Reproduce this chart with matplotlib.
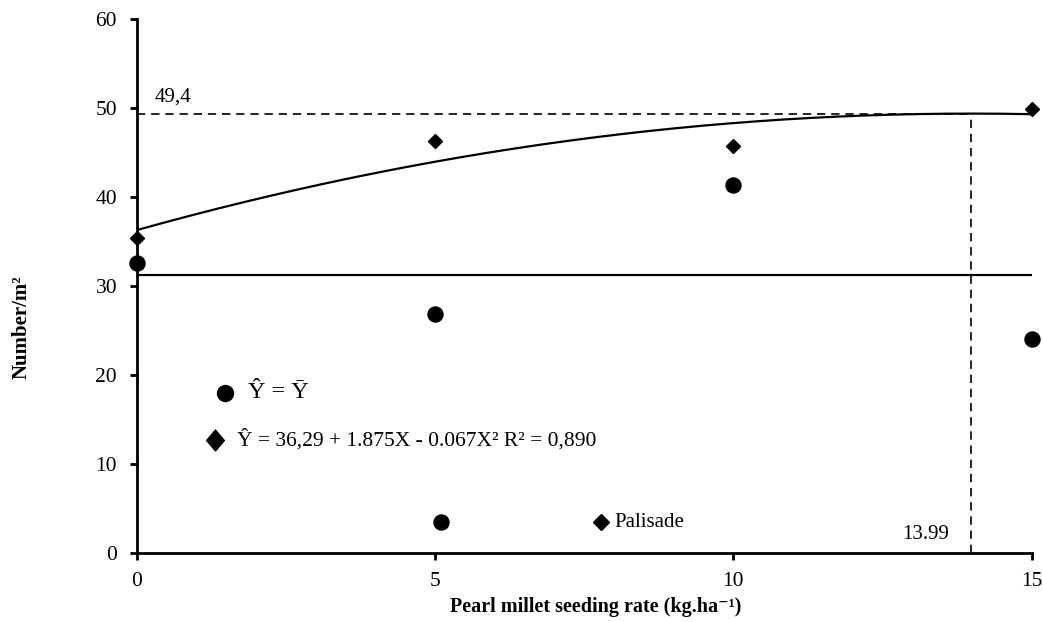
import numpy as np
import matplotlib.pyplot as plt
from matplotlib.path import Path

plt.rcParams['font.family'] = ['Liberation Serif', 'DejaVu Serif']

# data
rates = [0, 5, 10, 15]
mean_pts = [32.6, 26.9, 41.4, 24.1]       # circles, Y^ = Ybar
palisade = [35.4, 46.3, 45.8, 49.9]       # diamonds, quadratic fit
coef = [36.29, 1.875, -0.067]             # Y^ = b0 + b1 X + b2 X^2
x_max, y_max = 13.99, 49.4

fig = plt.figure(figsize=(10.43, 6.22), dpi=100)
ax = fig.add_axes([0.1309, 0.1114, 0.8583, 0.8573])

xs = np.linspace(0, 15, 200)
ys = coef[0] + coef[1] * xs + coef[2] * xs ** 2
ax.plot(xs, ys, color='black', lw=1.6, zorder=3)

ybar = np.mean(mean_pts)
ax.plot([0, 15], [ybar, ybar], color='black', lw=1.6, zorder=3)

ax.plot([0, x_max], [y_max, y_max], color='black', lw=1.2, dashes=(5, 3.5))
ax.plot([x_max, x_max], [0, y_max], color='black', lw=1.2, dashes=(5, 3.5))

ax.plot(rates, mean_pts, 'o', color='black', ms=10.8, clip_on=False, zorder=4)
ax.plot(rates, palisade, 'D', color='black', ms=7.0, clip_on=False, zorder=4)

# in-plot legend
tall_diamond = Path([(0, 1), (0.85, 0), (0, -1), (-0.85, 0), (0, 1)],
                    [Path.MOVETO, Path.LINETO, Path.LINETO, Path.LINETO, Path.CLOSEPOLY])
ax.plot([1.48], [18.0], 'o', color='black', ms=11.5)
ax.text(1.87, 18.0, 'Ŷ = Ȳ', fontsize=17.5, va='center', ha='left')
ax.plot([1.31], [12.7], marker=tall_diamond, color='black', ms=15, ls='none')
ax.text(1.68, 12.7, 'Ŷ = 36,29 + 1.875X - 0.067X² R² = 0,890', fontsize=15.5,
        va='center', ha='left')

ax.plot([5.1], [3.4], 'o', color='black', ms=10.8)
ax.plot([7.79], [3.4], 'D', color='black', ms=7.8)
ax.text(8.01, 3.4, 'Palisade', fontsize=15, va='center', ha='left')

ax.text(0.31, 50.8, '49,4', fontsize=15, ha='left', va='baseline')
ax.text(13.61, 1.5, '13.99', fontsize=15, ha='right', va='baseline')

ax.set_xlim(0, 15)
ax.set_ylim(0, 60)
ax.set_xticks([0, 5, 10, 15])
ax.set_yticks(range(0, 61, 10))
ax.spines['top'].set_visible(False)
ax.spines['right'].set_visible(False)
ax.spines['left'].set_linewidth(2.0)
ax.spines['bottom'].set_linewidth(2.0)
ax.tick_params(direction='out', length=5, width=2.0, labelsize=15.5, pad=9)

fig.text(0.0205, 0.474, 'Number/m²', rotation=90, fontsize=15, fontweight='bold',
         ha='center', va='center')
fig.text(0.571, 0.0165, 'Pearl millet seeding rate (kg.ha⁻¹)', fontsize=14.5,
         fontweight='bold', ha='center', va='baseline')

fig.savefig('out.png', dpi=100)
